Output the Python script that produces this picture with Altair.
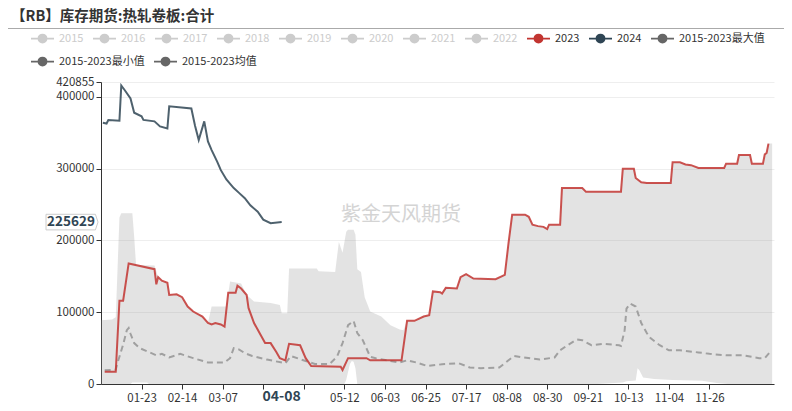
import json
import altair as alt
import pandas as pd

FONT = "Noto Sans CJK SC"
TITLE = "【RB】库存期货:热轧卷板:合计"
WATERMARK = "紫金天风期货"

legend_names = ["2015", "2016", "2017", "2018", "2019", "2020", "2021", "2022",
                "2023", "2024", "2015-2023最大值", "2015-2023最小值", "2015-2023均值"]
legend_colors = ["#cccccc"] * 8 + ["#c23531", "#2f4554", "#666666", "#666666", "#666666"]
active_names = legend_names[8:]
row1_count = 11

x_ticks = ["01-23", "02-14", "03-07", "03-29", "04-20", "05-12", "06-03", "06-25",
           "07-17", "08-08", "08-30", "09-21", "10-13", "11-04", "11-26"]
hidden_ticks = ["03-29", "04-20"]
y_ticks = [0, 100000, 200000, 300000, 400000, 420855]

# 2023
d2023 = ["01-03", "01-09", "01-11", "01-13", "01-16", "01-30", "01-31", "02-01", "02-03", "02-06",
         "02-07", "02-11", "02-14", "02-17", "02-20", "02-25", "02-28", "03-01", "03-03", "03-06",
         "03-08", "03-10", "03-14", "03-15", "03-17", "03-20", "03-21", "03-24", "03-30", "04-02",
         "04-05", "04-07", "04-10", "04-12", "04-18", "04-21", "04-24", "05-10", "05-11", "05-14",
         "05-24", "05-26", "06-12", "06-15", "06-19", "06-24", "06-27", "06-29", "07-03", "07-04",
         "07-06", "07-12", "07-14", "07-17", "07-21", "08-02", "08-07", "08-09", "08-11", "08-18",
         "08-20", "08-22", "08-25", "08-28", "08-30", "08-31", "09-06", "09-07", "09-18", "09-20",
         "10-09", "10-10", "10-16", "10-17", "10-20", "10-23", "11-05", "11-06", "11-10", "11-13",
         "11-16", "11-20", "12-04", "12-05", "12-11", "12-12", "12-18", "12-19", "12-25", "12-26",
         "12-27", "12-28"]
v2023 = [17000, 17000, 116000, 116000, 168000, 160000, 139000, 149000, 144000, 141000,
         124000, 125000, 121000, 108000, 101000, 94000, 85000, 83000, 85000, 83000,
         80000, 127000, 127000, 137000, 133000, 124000, 106000, 85000, 57000, 57000,
         45000, 36000, 33000, 56000, 54000, 36000, 25000, 24000, 19500, 36000,
         36000, 33000, 33000, 88000, 88000, 94000, 96000, 129000, 128000, 126000,
         134000, 133000, 149000, 153000, 147000, 146000, 152000, 196000, 236000, 236000,
         233000, 222000, 220000, 219000, 216000, 222000, 222000, 273000, 273000, 268000,
         268000, 300000, 300000, 287000, 281000, 280000, 280000, 309000, 309000, 306000,
         305000, 301000, 301000, 307000, 307000, 319000, 319000, 307000, 307000, 320000,
         322000, 335000]

# 2024
d2024 = ["01-02", "01-04", "01-05", "01-11", "01-12", "01-14", "01-17", "01-19", "01-23", "01-24",
         "01-30", "02-02", "02-06", "02-07", "02-19", "02-21", "02-23", "02-26", "02-28", "03-01",
         "03-04", "03-06", "03-09", "03-13", "03-16", "03-19", "03-22", "03-26", "03-29", "04-02",
         "04-08"]
v2024 = [364000, 363000, 368000, 367000, 416000, 409000, 398000, 378000, 373000, 368000,
         366000, 359000, 356000, 387000, 384000, 360000, 340000, 366000, 338000, 326000,
         310000, 298000, 285000, 273000, 266000, 259000, 249000, 240000, 229000, 224000,
         225629]

# 2015-2023 max (first half; second half equals 2023)
dmax_h1 = ["01-01", "01-07", "01-09", "01-11", "01-12", "01-18", "01-19", "01-20", "01-30", "02-01",
           "02-03", "02-06", "02-07", "02-11", "02-14", "02-17", "02-20", "02-25", "02-28", "03-01",
           "03-09", "03-11", "03-17", "03-20", "03-24", "04-02", "04-07", "04-08", "04-11", "04-12",
           "04-27", "04-28", "05-07", "05-09", "05-11", "05-13", "05-14", "05-17", "05-18", "05-19",
           "05-21", "05-23", "05-26", "06-01", "06-06", "06-11", "06-13"]
vmax_h1 = [89000, 90000, 93000, 232000, 238000, 238000, 205000, 166000, 165000, 149000,
           144000, 141000, 124000, 125000, 121000, 108000, 101000, 94000, 85000, 108000,
           108000, 143000, 140000, 124000, 115000, 113000, 110000, 98500, 98500, 161000,
           161000, 157000, 156000, 198000, 183000, 212000, 215000, 215000, 208000, 160000,
           156000, 121000, 101000, 94000, 82000, 76000, 75000]
dmax_tail = ["12-30"]
vmax_tail = [335000]
split = d2023.index("06-15")
dmax = dmax_h1 + d2023[split:] + dmax_tail
vmax = vmax_h1 + v2023[split:] + vmax_tail

# 2015-2023 min
dmin = ["01-01", "01-17", "01-18", "01-26", "01-27", "05-12", "05-13", "05-15", "05-16", "05-17",
        "05-18", "05-19", "09-26", "10-10", "10-12", "10-17", "10-18", "10-19", "10-21", "10-27",
        "11-06", "11-22", "11-30", "12-06", "12-30"]
vmin = [0, 0, 2000, 2000, 0, 0, 6000, 28000, 32000, 31000,
        22000, 0, 0, 2000, 4000, 5000, 22000, 19000, 9000, 7000,
        5500, 4500, 1500, 0, 0]

# 2015-2023 mean
dmean = ["01-03", "01-09", "01-10", "01-11", "01-13", "01-15", "01-16", "01-17", "01-19", "01-22",
         "01-31", "02-03", "02-07", "02-13", "02-20", "02-28", "03-08", "03-11", "03-13", "03-16",
         "03-19", "03-23", "03-31", "04-10", "04-13", "04-21", "04-26", "05-04", "05-08", "05-11",
         "05-14", "05-17", "05-19", "05-22", "05-26", "05-29", "06-05", "06-11", "06-15", "06-20",
         "06-26", "07-04", "07-13", "07-19", "07-25", "08-04", "08-09", "08-12", "08-17", "08-26",
         "09-03", "09-06", "09-10", "09-15", "09-18", "09-23", "09-29", "10-08", "10-09", "10-11",
         "10-12", "10-14", "10-17", "10-20", "10-23", "10-25", "10-30", "11-04", "11-10", "11-20",
         "11-26", "12-05", "12-14", "12-23", "12-26", "12-29"]
vmean = [19000, 20000, 30000, 38000, 55000, 75000, 78000, 70000, 57000, 50000,
         40000, 42000, 37000, 42000, 36000, 30000, 30000, 36000, 50000, 48000,
         43000, 39000, 34000, 29000, 39000, 32000, 28000, 28000, 38000, 57000,
         82000, 88000, 71000, 61000, 38000, 36000, 32500, 30000, 33000, 30000,
         25000, 27500, 29000, 23000, 22000, 23000, 33000, 39000, 37000, 34000,
         37000, 47000, 54000, 62000, 61000, 54000, 56000, 54000, 53000, 75000,
         105000, 112000, 108000, 85000, 71000, 64000, 54000, 47000, 47000, 44000,
         42000, 40000, 40000, 36000, 36000, 45000]


def frame(dates, vals, name):
    return pd.DataFrame({"date": ["2024-%sT00:00:00" % d for d in dates],
                         "value": vals, "series": name})


df_2023 = frame(d2023, v2023, "2023")
df_2024 = frame(d2024, v2024, "2024")
df_max = frame(dmax, vmax, "2015-2023最大值")
df_min = frame(dmin, vmin, "2015-2023最小值")
df_mean = frame(dmean, vmean, "2015-2023均值")

W, H = 673, 302
PAD = {"left": 93, "top": 74, "right": 10, "bottom": 24}


def dt(md):
    return alt.DateTime(year=2024, month=int(md[:2]), date=int(md[3:]))


fmt = "timeFormat(datum.value, '%m-%d')"
label_expr = "indexof(%s, %s) >= 0 ? '' : %s" % (json.dumps(hidden_ticks), fmt, fmt)

xscale = alt.Scale(domain=[dt("01-01"), dt("12-31")])
xaxis = alt.Axis(values=[dt(t) for t in x_ticks], format="%m-%d", labelExpr=label_expr,
                 labelFont=FONT, labelFontSize=11.5, labelColor="#333333",
                 tickColor="#333333", domainColor="#333333", tickSize=5, labelPadding=3,
                 grid=False, title=None, labelFlush=False, labelOverlap=False, zindex=1)
yscale = alt.Scale(domain=[0, y_ticks[-1]], nice=False, zero=True)
yaxis = alt.Axis(values=y_ticks, format="d", labelFont=FONT, labelFontSize=11.5,
                 labelColor="#333333", grid=True, gridColor="#eeeeee", domainColor="#333333",
                 tickColor="#333333", tickSize=5, labelPadding=2, title=None,
                 labelOverlap=False)

X = alt.X("date:T", scale=xscale, axis=xaxis)
Y = alt.Y("value:Q", scale=yscale, axis=yaxis)

max_area = alt.Chart(df_max).mark_area(color="#999999", opacity=0.27).encode(x=X, y=Y)
min_area = alt.Chart(df_min).mark_area(color="#ffffff", opacity=1).encode(x=X, y=Y)
mean_line = alt.Chart(df_mean).mark_line(color="#a0a0a0", strokeWidth=2,
                                         strokeDash=[6, 4]).encode(x=X, y=Y)
line2023 = alt.Chart(df_2023).mark_line(color="#c23531", strokeWidth=2,
                                        strokeOpacity=0.85).encode(x=X, y=Y)
line2024 = alt.Chart(df_2024).mark_line(color="#2f4554", strokeWidth=2,
                                        strokeOpacity=0.85).encode(x=X, y=Y)

SYM = ("M-1,0L1,0"
       "M0.36,0A0.36,0.36,0,1,1,-0.36,0A0.36,0.36,0,1,1,0.36,0"
       "M0.25,0A0.25,0.25,0,1,1,-0.25,0A0.25,0.25,0,1,1,0.25,0"
       "M0.14,0A0.14,0.14,0,1,1,-0.14,0A0.14,0.14,0,1,1,0.14,0"
       "M0.04,0A0.04,0.04,0,1,1,-0.04,0A0.04,0.04,0,1,1,0.04,0")

label_color = "indexof(%s, datum.label) >= 0 ? '#333333' : '#cccccc'" % json.dumps(
    active_names, ensure_ascii=False)


def legend_props(y):
    return dict(orient="none", legendX=-71, legendY=y, direction="horizontal",
                title=None, symbolType=SYM, symbolSize=529, symbolStrokeWidth=1.6,
                labelFont=FONT, labelFontSize=11, labelColor={"expr": label_color},
                labelOffset=4, columnPadding=5, labelLimit=300, padding=0)


# legend row 1 (color channel) -- single-vertex lines draw nothing
legend1_df = pd.concat([df_2023.head(1), df_2024.head(1)])
legend_row1 = alt.Chart(legend1_df).mark_line(strokeWidth=1.6).encode(
    x=X, y=Y,
    color=alt.Color("series:N",
                    scale=alt.Scale(domain=legend_names[:row1_count],
                                    range=legend_colors[:row1_count]),
                    legend=alt.Legend(**legend_props(-56))))

# legend row 2 (stroke channel)
legend2_df = pd.concat([df_min.head(1), df_mean.head(1)])
legend_row2 = alt.Chart(legend2_df).mark_line(strokeWidth=1.6).encode(
    x=X, y=Y,
    stroke=alt.Stroke("series:N",
                      scale=alt.Scale(domain=legend_names[row1_count:],
                                      range=legend_colors[row1_count:]),
                      legend=alt.Legend(**legend_props(-33))))

BOX = "M-1,-0.3L0.9,-0.3L1,0L0.9,0.3L-1,0.3Z"
pointer_df = pd.DataFrame({"date": ["2024-%sT00:00:00" % d2024[-1]], "value": [v2024[-1]],
                           "label": [str(v2024[-1])], "xlabel": [d2024[-1]]})
box = alt.Chart(pointer_df).mark_point(shape=BOX, size=2704, filled=True, fill="#ffffff",
                                       stroke="#cccccc", strokeWidth=1, opacity=1).encode(
    x=alt.value(-29), y=Y)
ylabel = alt.Chart(pointer_df).mark_text(font=FONT, fontSize=13.5, fontWeight="bold",
                                         color="#2f4554").encode(
    x=alt.value(-30), y=Y, text="label:N")
xlabel = alt.Chart(pointer_df).mark_text(font=FONT, fontSize=14, fontWeight="bold",
                                         color="#2f4554", baseline="middle").encode(
    x=X, y=alt.value(H + 13), text="xlabel:N")

text_df = pd.DataFrame({"title": [TITLE], "wm": [WATERMARK]})
watermark = alt.Chart(text_df).mark_text(font=FONT, fontSize=20, color="#d4d4d4").encode(
    x=alt.value(300), y=alt.value(133), text="wm:N")
title = alt.Chart(text_df).mark_text(font=FONT, fontSize=14.5, fontWeight="bold",
                                     color="#333333", align="left").encode(
    x=alt.value(-90), y=alt.value(17 - 82), text="title:N")
sep = alt.Chart(text_df).mark_rule(color="#aaaaaa", strokeWidth=1).encode(
    x=alt.value(-93), x2=alt.value(W + 10), y=alt.value(28.5 - 82))

chart = alt.layer(max_area, min_area, mean_line, line2023, line2024, legend_row1, legend_row2,
                  box, ylabel, xlabel, watermark, title, sep).properties(
    width=W, height=H, padding=PAD,
    autosize=alt.AutoSizeParams(type="none")).configure_view(strokeWidth=0)

chart.save("out.html", embed_options={"renderer": "svg", "actions": False})
